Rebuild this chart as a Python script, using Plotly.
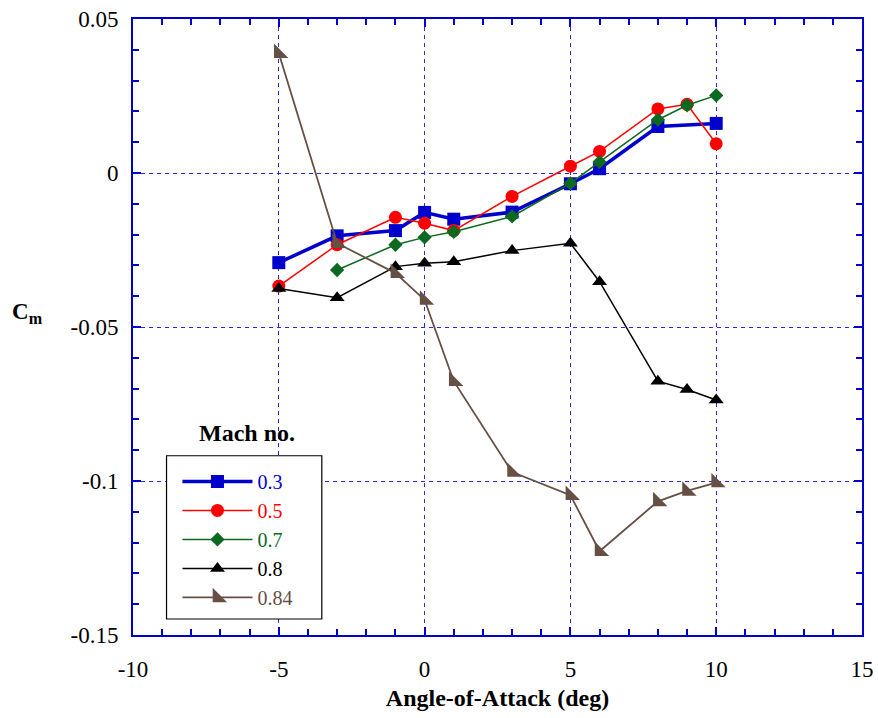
import plotly.graph_objects as go

# Data
aoa_03 = [-5, -3, -1, 0, 1, 3, 5, 6, 8, 10]
cm_03 = [-0.0291, -0.0204, -0.0187, -0.0128, -0.0150, -0.0127, -0.0035, 0.0014, 0.0151, 0.0161]

aoa_05 = [-5, -3, -1, 0, 1, 3, 5, 6, 8, 9, 10]
cm_05 = [-0.0367, -0.0233, -0.0144, -0.0163, -0.0187, -0.0076, 0.0022, 0.0070, 0.0208, 0.0223, 0.0095]

aoa_07 = [-3, -1, 0, 1, 3, 5, 6, 8, 9, 10]
cm_07 = [-0.0315, -0.0233, -0.0209, -0.0191, -0.0141, -0.0034, 0.0036, 0.0173, 0.0220, 0.0252]

aoa_08 = [-5, -3, -1, 0, 1, 3, 5, 6, 8, 9, 10]
cm_08 = [-0.0375, -0.0405, -0.0304, -0.0293, -0.0288, -0.0252, -0.0228, -0.0353, -0.0676, -0.0703, -0.0737]

aoa_084 = [-5, -3, -1, 0, 1, 3, 5, 6, 8, 9, 10]
cm_084 = [0.0389, -0.0228, -0.0325, -0.0412, -0.0676, -0.0971, -0.1046, -0.1228, -0.1066, -0.1032, -0.1005]

x_ticks = [-10, -5, 0, 5, 10, 15]
y_ticks = [0.05, 0, -0.05, -0.1, -0.15]
y_tick_labels = ["0.05", "0", "-0.05", "-0.1", "-0.15"]

series = [
    ("0.3", aoa_03, cm_03, "#0000cc", 3.5, "square", 13),
    ("0.5", aoa_05, cm_05, "#ff0000", 1.5, "circle", 13),
    ("0.7", aoa_07, cm_07, "#0b6a1f", 1.5, "diamond", 11),
    ("0.8", aoa_08, cm_08, "#000000", 1.5, "triangle-up", 13),
    ("0.84", aoa_084, cm_084, "#664f45", 1.8, "triangle-sw", 16),
]

FONT = "Times New Roman"
BLUE = "#0000cc"
GRID = "#2a2ae0"

fig = go.Figure()
for name, xs, ys, color, lw, sym, ms in series:
    fig.add_trace(go.Scatter(
        x=xs, y=ys, mode="lines+markers",
        name=f'<span style="color:{color}">{name}</span>',
        line=dict(color=color, width=lw),
        marker=dict(symbol=sym, size=ms, color=color, line=dict(width=0)),
    ))

fig.update_layout(
    width=878, height=718,
    margin=dict(l=133, r=16, t=19, b=83),
    plot_bgcolor="white", paper_bgcolor="white",
    font=dict(family=FONT, size=19, color="black"),
    showlegend=True,
    legend=dict(
        x=0.061, y=0.281, xanchor="left", yanchor="top",
        bgcolor="rgba(0,0,0,0)", borderwidth=0,
        font=dict(family=FONT, size=20),
        itemwidth=70, tracegroupgap=0,
    ),
    shapes=[
        dict(type="rect", xref="paper", yref="paper",
             x0=0.046, x1=0.259, y0=0.026, y1=0.291,
             line=dict(color="black", width=1.2), fillcolor="white", layer="above"),
    ],
    annotations=[
        dict(text="<b>Mach no.</b>", x=0.157, y=0.303, xref="paper", yref="paper",
             xanchor="center", yanchor="bottom", showarrow=False,
             font=dict(family=FONT, size=24, color="black")),
        dict(text="<b>C<sub>m</sub></b>", x=-0.145, y=0.523, xref="paper", yref="paper",
             xanchor="center", yanchor="middle", showarrow=False,
             font=dict(family=FONT, size=23, color="black")),
    ],
)

fig.update_xaxes(
    range=[-10, 15], tickvals=x_ticks, ticktext=[str(v) for v in x_ticks],
    showline=True, linecolor=BLUE, linewidth=2, mirror="ticks",
    ticks="inside", ticklen=8, tickcolor=BLUE, tickwidth=1.5,
    minor=dict(dtick=1, ticks="inside", ticklen=6, tickcolor=BLUE, tickwidth=1.5, showgrid=False),
    showgrid=True, gridcolor=GRID, griddash="4px,4px", gridwidth=1.2,
    zeroline=False, automargin=False,
    title=dict(text="<b>Angle-of-Attack (deg)</b>", font=dict(family=FONT, size=24), standoff=9),
    tickfont=dict(family=FONT, size=23),
    ticklabelstandoff=12,
)
fig.update_yaxes(
    range=[-0.15, 0.05], tickvals=y_ticks, ticktext=y_tick_labels,
    showline=True, linecolor=BLUE, linewidth=2, mirror="ticks",
    ticks="inside", ticklen=8, tickcolor=BLUE, tickwidth=1.5,
    minor=dict(dtick=0.01, ticks="inside", ticklen=6, tickcolor=BLUE, tickwidth=1.5, showgrid=False),
    showgrid=True, gridcolor=GRID, griddash="4px,4px", gridwidth=1.2,
    zeroline=False, automargin=False,
    tickfont=dict(family=FONT, size=23),
    ticklabelstandoff=8,
)

fig.write_html("out.html")
